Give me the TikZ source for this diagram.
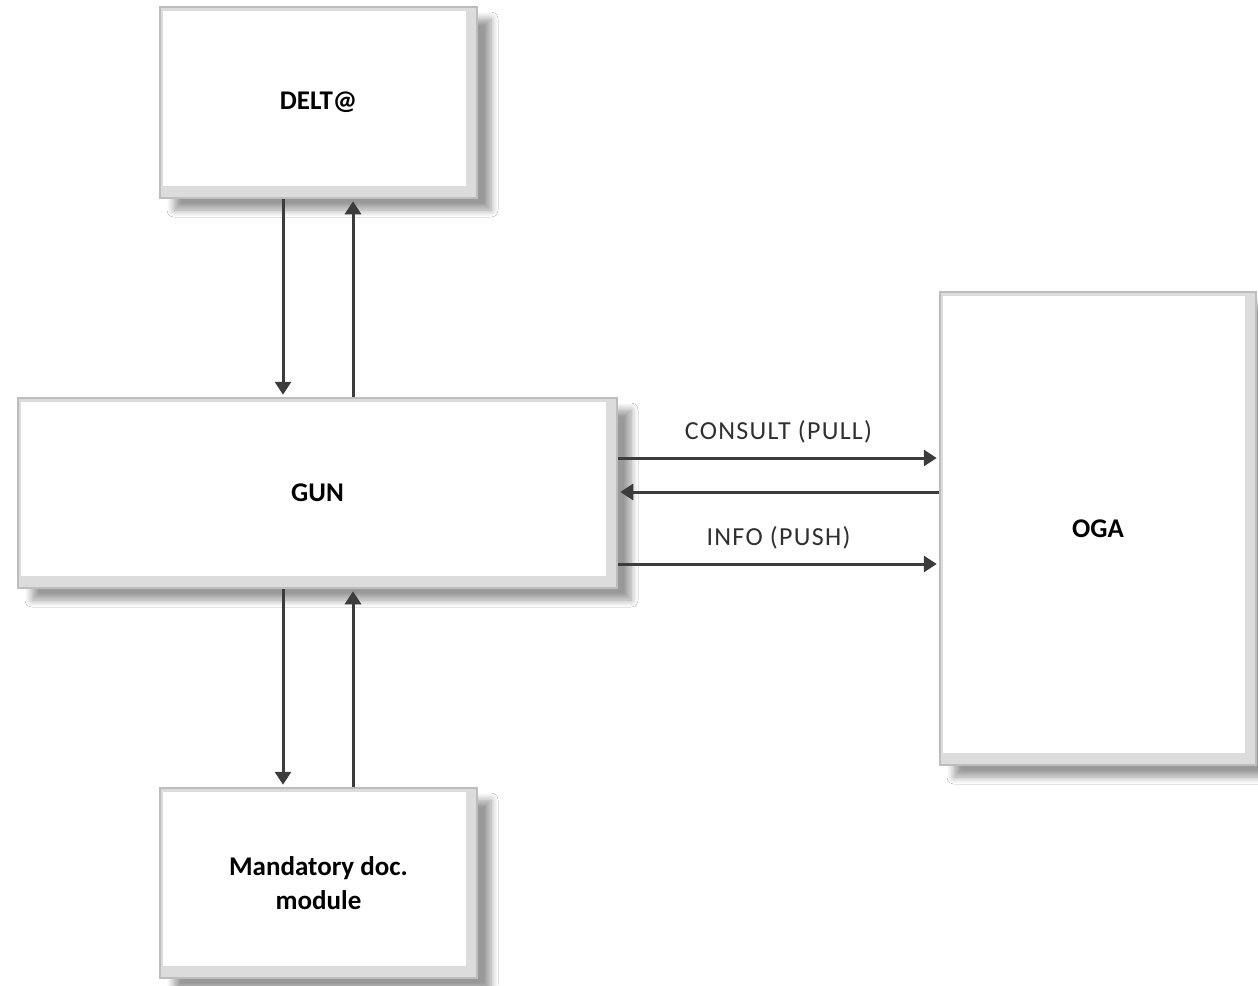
\documentclass[tikz,border=0pt]{standalone}
\usepackage{fontspec}
\setmainfont{Carlito}
\newfontfamily\labfont[LetterSpace=5]{Carlito}
\usetikzlibrary{arrows.meta,shadows.blur}
\definecolor{boxborder}{HTML}{BDBDBD}
\definecolor{bevel}{HTML}{DCDCDC}
\definecolor{arrowcol}{HTML}{3C3C3C}
\definecolor{labcol}{HTML}{303030}
\tikzset{
  blockbox/.style={draw=boxborder, line width=2.5pt, fill=white,
    inner sep=0pt, align=center,
    font=\fontsize{27}{34}\selectfont\bfseries,
    blur shadow={shadow xshift=14pt, shadow yshift=-12pt, shadow blur steps=8, shadow blur radius=7pt, shadow opacity=40},
    path picture={
      \fill[bevel] ([xshift=-11pt]path picture bounding box.north east) rectangle (path picture bounding box.south east);
      \fill[bevel] (path picture bounding box.south west) rectangle ([yshift=12pt]path picture bounding box.south east);
      \fill[bevel] (path picture bounding box.south west) rectangle ([xshift=3pt]path picture bounding box.north west);
      \fill[bevel] ([yshift=-4pt]path picture bounding box.north west) rectangle (path picture bounding box.north east);
    }},
  arr/.style={draw=arrowcol, line width=3pt, -{Triangle[width=16pt,length=13pt]}, shorten >=2pt},
  lab/.style={font=\labfont\fontsize{26}{30}\selectfont, text=labcol, inner sep=0pt}
}
\begin{document}
\begin{tikzpicture}[x=1pt,y=-1pt]
\useasboundingbox[fill=white] (0,0) rectangle (1258,985);
\node[blockbox, minimum width=317pt, minimum height=191pt] (delta) at (318.5,102.5) {DELT@};
\node[blockbox, minimum width=599pt, minimum height=190pt] (gun) at (317.5,493) {GUN};
\node[blockbox, minimum width=317pt, minimum height=190pt] (mand) at (318.5,883) {Mandatory doc.\\module};
\node[blockbox, minimum width=316pt, minimum height=473pt] (oga) at (1098,528.5) {OGA};
% vertical connectors
\draw[arr] ([xshift=-35.5pt]delta.south) coordinate (v1) -- (v1 |- gun.north);
\draw[arr] ([xshift=34.5pt]delta.south) coordinate (v2) (v2 |- gun.north) -- (v2);
\draw[arr] ([xshift=-35.5pt]mand.north) coordinate (v3) (v3 |- gun.south) -- (v3);
\draw[arr] ([xshift=34.5pt]mand.north) coordinate (v4) -- (v4 |- gun.south);
% horizontal connectors
\draw[arr] ([yshift=35pt]gun.east) coordinate (c1) -- (oga.west |- c1)
  node[lab, midway, above=13pt] (consult) {CONSULT (PULL)};
\draw[arr] ([yshift=1pt]gun.east -| oga.west) coordinate (c2) -- (gun.east |- c2);
\draw[arr] ([yshift=-71pt]gun.east) coordinate (c3) -- (oga.west |- c3)
  node[lab, midway, above=13pt] (info) {INFO (PUSH)};
\end{tikzpicture}
\end{document}
